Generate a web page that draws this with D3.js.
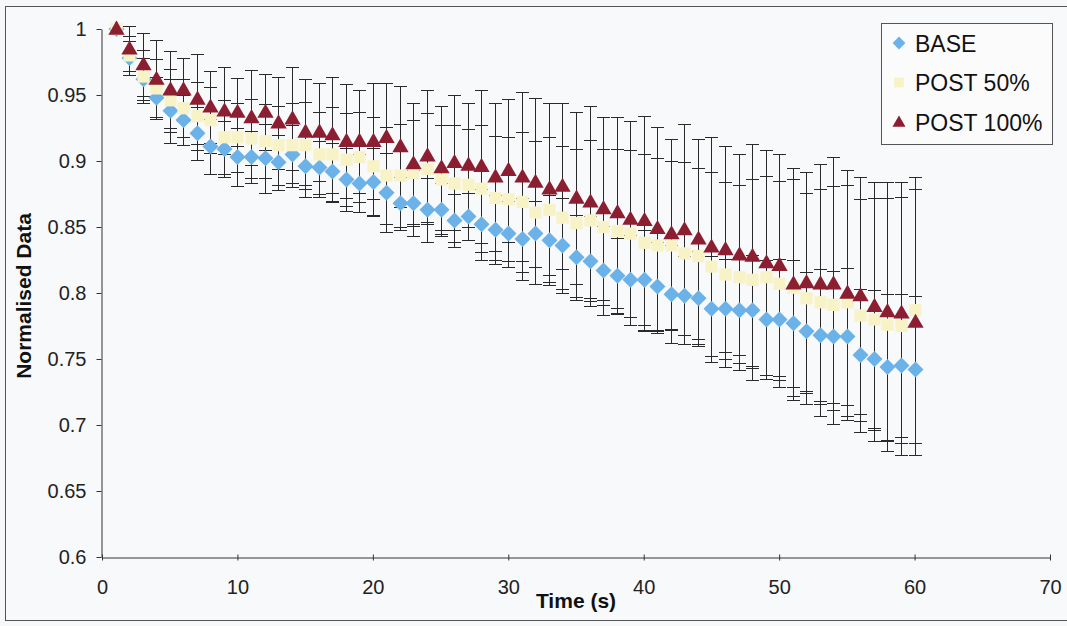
<!DOCTYPE html>
<html>
<head>
<meta charset="utf-8">
<script src="https://cdn.jsdelivr.net/npm/d3@7"></script>
<style>
  html, body { margin: 0; padding: 0; background: #f7f8fa; }
  svg { display: block; font-family: "Liberation Sans", Arial, sans-serif; }
</style>
</head>
<body>
<svg id="chart"></svg>
<script>
(() => {
  const W = 1067, H = 626;

  // time points (s)
  const times = d3.range(1, 61);

  // normalised means
  const base = [
    1.000, 0.978, 0.962, 0.948, 0.938, 0.931, 0.921, 0.911, 0.909, 0.903,
    0.903, 0.902, 0.899, 0.905, 0.896, 0.895, 0.892, 0.886, 0.883, 0.884,
    0.876, 0.868, 0.868, 0.863, 0.863, 0.855, 0.858, 0.852, 0.848, 0.845,
    0.841, 0.845, 0.840, 0.836, 0.827, 0.824, 0.817, 0.813, 0.810, 0.810,
    0.805, 0.799, 0.798, 0.796, 0.788, 0.788, 0.787, 0.787, 0.780, 0.780,
    0.777, 0.771, 0.768, 0.767, 0.767, 0.753, 0.750, 0.744, 0.745, 0.742
  ];
  const post50 = [
    1.000, 0.980, 0.964, 0.955, 0.946, 0.940, 0.934, 0.931, 0.918, 0.918,
    0.917, 0.915, 0.912, 0.912, 0.912, 0.905, 0.905, 0.901, 0.903, 0.896,
    0.889, 0.889, 0.891, 0.894, 0.886, 0.883, 0.882, 0.879, 0.872, 0.871,
    0.869, 0.861, 0.863, 0.857, 0.853, 0.855, 0.850, 0.847, 0.845, 0.838,
    0.836, 0.836, 0.830, 0.828, 0.820, 0.814, 0.812, 0.810, 0.812, 0.807,
    0.804, 0.796, 0.793, 0.791, 0.793, 0.783, 0.780, 0.776, 0.775, 0.787
  ];
  const post100 = [
    1.000, 0.985, 0.973, 0.962, 0.954, 0.954, 0.947, 0.941, 0.938, 0.937,
    0.933, 0.937, 0.929, 0.932, 0.922, 0.922, 0.920, 0.915, 0.915, 0.915,
    0.918, 0.911, 0.898, 0.904, 0.895, 0.899, 0.897, 0.896, 0.888, 0.893,
    0.888, 0.884, 0.879, 0.881, 0.872, 0.869, 0.864, 0.861, 0.856, 0.855,
    0.849, 0.845, 0.848, 0.841, 0.835, 0.833, 0.829, 0.828, 0.823, 0.821,
    0.807, 0.808, 0.807, 0.807, 0.800, 0.798, 0.790, 0.786, 0.785, 0.778
  ];

  // error bar half-lengths (SD)
  const baseSd = [
    0.000, 0.013, 0.016, 0.016, 0.024, 0.019, 0.020, 0.021, 0.021, 0.022,
    0.020, 0.026, 0.021, 0.022, 0.023, 0.020, 0.022, 0.024, 0.022, 0.026,
    0.030, 0.020, 0.025, 0.024, 0.020, 0.020, 0.018, 0.027, 0.026, 0.025,
    0.031, 0.025, 0.034, 0.036, 0.032, 0.034, 0.034, 0.029, 0.034, 0.038,
    0.034, 0.037, 0.030, 0.036, 0.040, 0.038, 0.040, 0.042, 0.045, 0.046,
    0.048, 0.045, 0.050, 0.050, 0.052, 0.050, 0.052, 0.055, 0.054, 0.056
  ];
  const post50Sd = [
    0.000, 0.015, 0.020, 0.022, 0.024, 0.022, 0.026, 0.025, 0.028, 0.026,
    0.030, 0.028, 0.030, 0.032, 0.033, 0.032, 0.036, 0.035, 0.034, 0.037,
    0.037, 0.039, 0.040, 0.042, 0.041, 0.044, 0.042, 0.048, 0.047, 0.047,
    0.053, 0.054, 0.055, 0.054, 0.056, 0.061, 0.059, 0.062, 0.063, 0.067,
    0.066, 0.064, 0.069, 0.067, 0.072, 0.070, 0.070, 0.076, 0.077, 0.078,
    0.082, 0.080, 0.086, 0.090, 0.089, 0.088, 0.092, 0.096, 0.098, 0.101
  ];
  const post100Sd = [
    0.000, 0.017, 0.024, 0.030, 0.029, 0.024, 0.034, 0.027, 0.033, 0.026,
    0.036, 0.029, 0.035, 0.039, 0.040, 0.037, 0.044, 0.043, 0.039, 0.044,
    0.041, 0.046, 0.046, 0.050, 0.047, 0.051, 0.047, 0.058, 0.056, 0.054,
    0.064, 0.064, 0.065, 0.063, 0.065, 0.073, 0.069, 0.072, 0.074, 0.079,
    0.077, 0.072, 0.080, 0.076, 0.083, 0.078, 0.076, 0.085, 0.085, 0.084,
    0.088, 0.084, 0.091, 0.096, 0.093, 0.090, 0.094, 0.098, 0.099, 0.101
  ];

  const seriesNames = ["BASE", "POST 50%", "POST 100%"];
  const xTicks = [0, 10, 20, 30, 40, 50, 60, 70];
  const yTicks = [0.6, 0.65, 0.7, 0.75, 0.8, 0.85, 0.9, 0.95, 1];

  const series = [
    { name: seriesNames[0], mean: base, sd: baseSd, sym: "diamond", fill: "#6ab2e8" },
    { name: seriesNames[1], mean: post50, sd: post50Sd, sym: "square", fill: "#f8f3c6" },
    { name: seriesNames[2], mean: post100, sd: post100Sd, sym: "triangle", fill: "#8b1e30" }
  ];

  const svg = d3.select("#chart").attr("width", W).attr("height", H);

  // chart area border
  svg.append("rect")
    .attr("x", 5.5).attr("y", 6.5).attr("width", W + 10).attr("height", 614)
    .attr("fill", "#f8f9fb").attr("stroke", "#555").attr("stroke-width", 1);

  const x = d3.scaleLinear().domain([0, 70]).range([102, 1050]);
  const y = d3.scaleLinear().domain([0.6, 1]).range([557, 29]);
  const px = v => Math.round(v) + 0.5; // crisp 1px lines

  // axes
  const yAx = svg.append("g").attr("transform", "translate(101.5,0)")
    .call(d3.axisLeft(y).tickValues(yTicks).tickFormat(d3.format("~g"))
      .tickSizeInner(5).tickSizeOuter(0).tickPadding(10));
  const xAx = svg.append("g").attr("transform", "translate(0,557.5)")
    .call(d3.axisBottom(x).tickValues(xTicks).tickFormat(d3.format("~g"))
      .tickSizeInner(0).tickSizeOuter(0).tickPadding(22));
  xAx.selectAll(".tick").append("line").attr("y1", -3).attr("y2", 3);
  [yAx, xAx].forEach(a => {
    a.select(".domain").attr("stroke", "#333");
    a.selectAll(".tick line").attr("stroke", "#333");
    a.selectAll(".tick text").attr("font-size", 20).attr("fill", "#222")
      .attr("font-family", "'Liberation Sans', Arial, sans-serif");
  });

  // axis titles
  svg.append("text")
    .attr("x", 576).attr("y", 608).attr("text-anchor", "middle")
    .attr("font-size", 21).attr("font-weight", "bold").attr("fill", "#111")
    .text("Time (s)");
  svg.append("text")
    .attr("transform", "translate(31,296) rotate(-90)").attr("text-anchor", "middle")
    .attr("font-size", 21).attr("font-weight", "bold").attr("fill", "#111")
    .text("Normalised Data");

  // marker shapes
  const shape = (sym, scale = 1) => {
    if (sym === "diamond") return d3.symbol(d3.symbolSquare, 128 * scale * scale)();
    if (sym === "square") return d3.symbol(d3.symbolSquare, 150 * scale * scale)();
    return d3.symbol(d3.symbolTriangle, 115 * scale * scale)();
  };
  const rot = sym => sym === "diamond" ? " rotate(45)" : "";
  const dy = sym => sym === "triangle" ? 1 : 0;

  // error bars
  const eb = svg.append("g").attr("stroke", "#2a2a2a").attr("stroke-width", 1);
  series.forEach(s => {
    const pts = times.map((t, i) => ({ t, m: s.mean[i], sd: s.sd[i] })).filter(d => d.sd > 0);
    const g = eb.selectAll(null).data(pts).join("g");
    g.append("line")
      .attr("x1", d => px(x(d.t))).attr("x2", d => px(x(d.t)))
      .attr("y1", d => px(y(d.m - d.sd))).attr("y2", d => px(y(d.m + d.sd)));
    g.append("line")
      .attr("x1", d => px(x(d.t)) - 6.5).attr("x2", d => px(x(d.t)) + 6.5)
      .attr("y1", d => px(y(d.m + d.sd))).attr("y2", d => px(y(d.m + d.sd)));
    g.append("line")
      .attr("x1", d => px(x(d.t)) - 6.5).attr("x2", d => px(x(d.t)) + 6.5)
      .attr("y1", d => px(y(d.m - d.sd))).attr("y2", d => px(y(d.m - d.sd)));
  });

  // markers
  series.forEach(s => {
    svg.append("g").selectAll("path")
      .data(times.map((t, i) => ({ t, m: s.mean[i] })))
      .join("path")
      .attr("d", shape(s.sym))
      .attr("transform", d => `translate(${px(x(d.t))},${y(d.m) + dy(s.sym)})${rot(s.sym)}`)
      .attr("fill", s.fill);
  });

  // legend
  const lg = svg.append("g");
  lg.append("rect")
    .attr("x", 881.5).attr("y", 23.5).attr("width", 171).attr("height", 121)
    .attr("fill", "#fbfbfc").attr("stroke", "#555");
  series.forEach((s, i) => {
    const cy = 43 + i * 39.5;
    lg.append("path").attr("d", shape(s.sym, 0.8))
      .attr("transform", `translate(899,${cy + dy(s.sym)})${rot(s.sym)}`)
      .attr("fill", s.fill);
    lg.append("text").attr("x", 915).attr("y", cy + 8.5)
      .attr("font-size", 23).attr("fill", "#111").text(s.name);
  });
})();
</script>
</body>
</html>
